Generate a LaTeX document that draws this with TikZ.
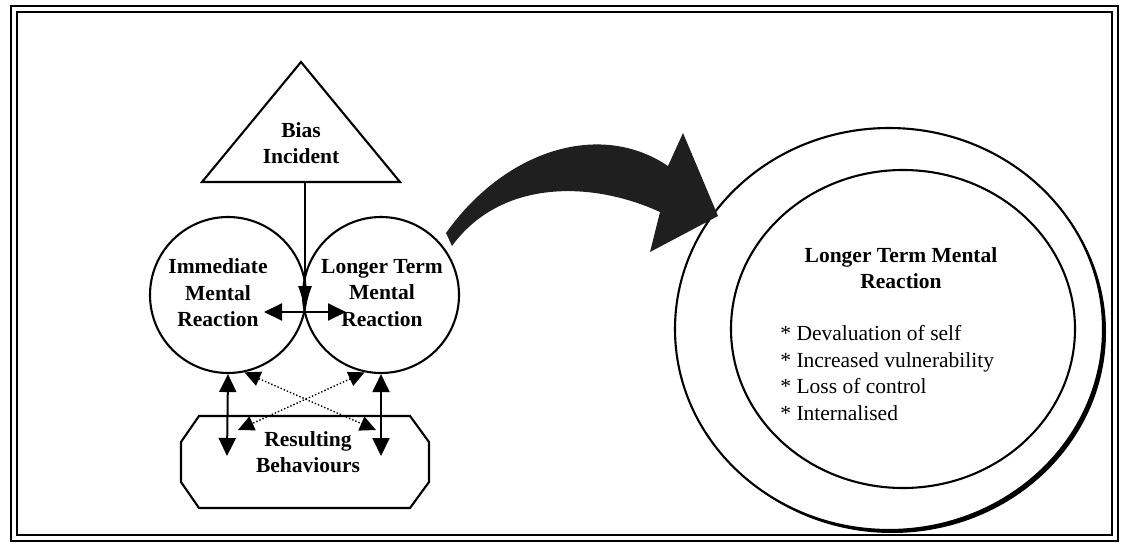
\documentclass[tikz,border=0pt]{standalone}
\usepackage{fontspec}
\setmainfont{Liberation Serif}
\usetikzlibrary{arrows.meta, shapes.geometric}

\begin{document}
\begin{tikzpicture} [
	x=1pt, y=-1pt, % one unit = one pixel, y runs downwards
	line width=2.1pt,
	every node/.style={font=\fontsize{21.5}{26.5}\selectfont, align=center}, % all texts
	title/.style={font=\fontsize{21.5}{26.5}\selectfont\bfseries}, % bold labels
	ring/.style={circle, draw, minimum size=156pt, inner sep=0pt}, % the two small circles
	twoway/.style={{Triangle[length=18pt,width=17pt]}-{Triangle[length=18pt,width=17pt]}, line width=2pt},
	crossway/.style={{Triangle[length=16pt,width=15pt]}-{Triangle[length=16pt,width=15pt]}, dotted, line width=1.4pt},
	]
	\useasboundingbox (0,0) rectangle (1124,546);
	% double frame
	\draw[line width=2.2pt] (11,6) rectangle (1118,541);
	\draw[line width=1.6pt] (17,12) rectangle (1112,535);

	% bias incident
	\draw (301,62) -- (400,182) -- (202,182) -- cycle;
	\node[title] (bias) at (301,143) {Bias\\Incident};
	\coordinate (biasfoot) at (305,182);

	% the two reactions
	\node[ring] (imm) at (228,295) {};
	\node[ring] (lng) at (381,295) {};
	\node[title] (immtext) at (218,293) {Immediate\\Mental\\Reaction};
	\node[title] (lngtext) at (382,293) {Longer Term\\Mental\\Reaction};

	\coordinate (hub) at (305,312);
	\coordinate (hubL) at (264,312);
	\coordinate (hubR) at (346,312);
	\draw[-{Latex[length=26pt,width=14pt]}, line width=2pt] (biasfoot) -- (hub);
	\draw[twoway] (hubL) -- (hubR);

	% resulting behaviours
	\draw (199,416) -- (410,416) -- (429,442) -- (429,482) -- (410,508)
		-- (199,508) -- (181,482) -- (181,442) -- cycle;
	\node[title] (beh) at (308,452) {Resulting\\Behaviours};
	\coordinate (behL) at (227,456);
	\coordinate (behR) at (381,456);
	\coordinate (behdl) at (238,430);
	\coordinate (behdr) at (376,430);
	\draw[twoway] (imm.south) -- (behL);
	\draw[twoway] (lng.south) -- (behR);
	\draw[crossway] (imm.-78) -- (behdr);
	\draw[crossway] (lng.-102) -- (behdl);

	% longer term reaction in detail
	\node[ellipse, fill=black, minimum width=428pt, minimum height=402pt, inner sep=0pt] at (892,332) {};
	\node[ellipse, draw, fill=white, minimum width=428pt, minimum height=402pt, inner sep=0pt] (outer) at (889,329) {};
	\node[ellipse, draw, minimum width=344pt, minimum height=318pt, inner sep=0pt] (inner) at (903,329) {};
	\node[title] (innertitle) at (901,268) {Longer Term Mental\\Reaction};
	\foreach \txt [count=\i] in {Devaluation of self, Increased vulnerability, Loss of control, Internalised}
		\node[anchor=base west] (item\i) at (776,314+26.6*\i) {* \txt};

	% big curved arrow
	\fill[black!88] (446,233) .. controls (505,150) and (600,120) .. (668,166)
		-- (683,133) -- (718,216) -- (650,252) -- (660,212)
		.. controls (590,180) and (500,180) .. (452,246) -- cycle;
\end{tikzpicture}
\end{document}
